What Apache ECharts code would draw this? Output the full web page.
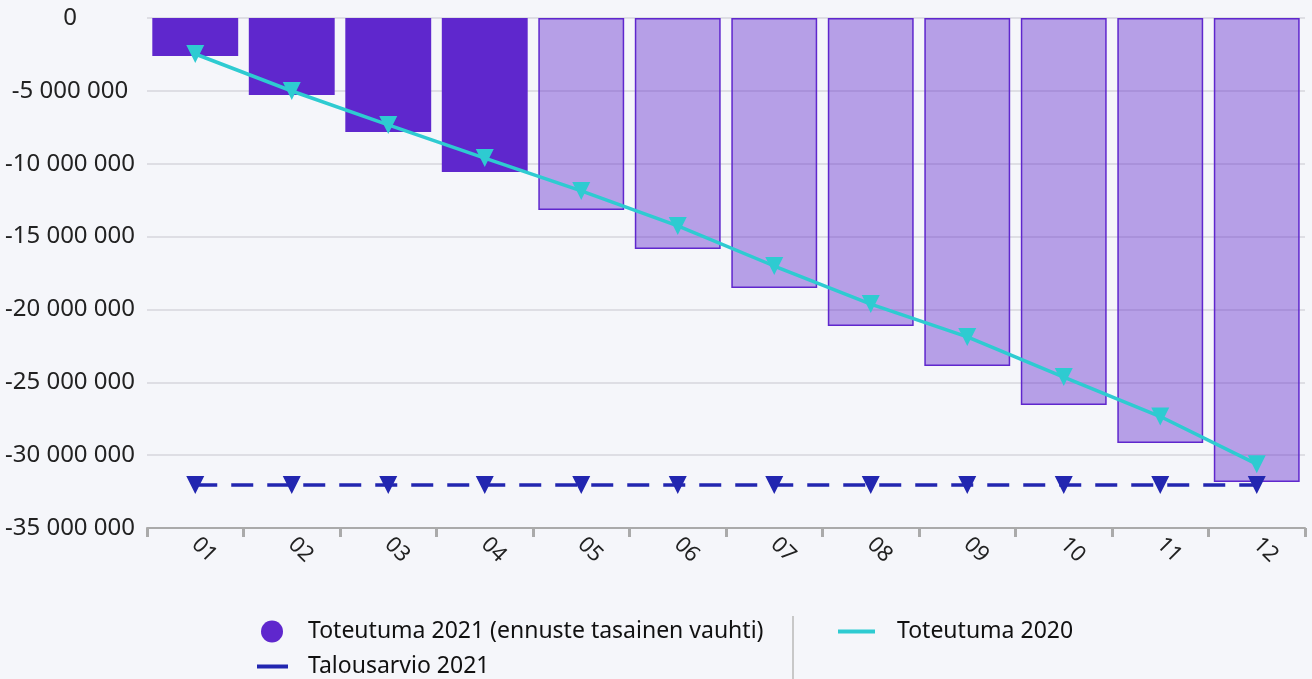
<!DOCTYPE html>
<html>
<head>
<meta charset="utf-8" />
<title>Toteutuma 2021</title>
<script src="https://cdnjs.cloudflare.com/ajax/libs/echarts/6.0.0/echarts.min.js"></script>
<style>
  html, body { margin: 0; padding: 0; background: #f5f6fa; }
  #chart { width: 1312px; height: 679px; }
</style>
</head>
<body>
<div id="chart"></div>
<script>
  // kuukaudet ja arvot (luettu kuvasta)
  var kuukaudet = ['01', '02', '03', '04', '05', '06', '07', '08', '09', '10', '11', '12'];
  var toteutuma2021 = [-2610000, -5280000, -7820000, -10570000, -13180000, -15850000,
                       -18530000, -21140000, -23880000, -26560000, -29170000, -31850000];
  var toteutuma2020 = [-2470000, -5010000, -7340000, -9610000, -11870000, -14270000,
                       -17020000, -19630000, -21890000, -24640000, -27350000, -30620000];
  var talousarvio2021 = [-32050000, -32050000, -32050000, -32050000, -32050000, -32050000,
                         -32050000, -32050000, -32050000, -32050000, -32050000, -32050000];
  var toteutuneetKk = 4; // loput ovat ennustetta

  var fontti = '"Noto Sans", "Open Sans", sans-serif';
  var violetti = '#5f27cd';

  function tuhannet(v) {
    return String(v).replace(/\B(?=(\d{3})+(?!\d))/g, ' ');
  }

  var palkit = toteutuma2021.map(function (v, i) {
    if (i < toteutuneetKk) return v;
    return { value: v, itemStyle: { color: 'rgba(95,39,205,0.42)', borderColor: violetti, borderWidth: 1.5 } };
  });

  var option = {
    backgroundColor: '#f5f6fa',
    textStyle: { fontFamily: fontti },
    grid: { left: 147, right: 7, top: 18, bottom: 151 },
    xAxis: {
      type: 'category',
      data: kuukaudet,
      z: 5,
      axisLine: { show: true, onZero: false, lineStyle: { color: '#aaaaaa', width: 2 } },
      axisTick: { show: true, interval: 0, length: 9, lineStyle: { color: '#aaaaaa', width: 3 } },
      axisLabel: { rotate: -45, fontSize: 22, color: '#222', margin: 13, fontFamily: fontti }
    },
    yAxis: {
      type: 'value',
      min: -35000000, max: 0, interval: 5000000,
      axisLine: { show: false },
      axisTick: { show: false },
      splitLine: { lineStyle: { color: '#d6d6dc', width: 1.5 } },
      axisLabel: { fontSize: 24, color: '#222', align: 'center', margin: 77, fontFamily: fontti, formatter: tuhannet }
    },
    legend: [
      {
        data: [{ name: 'Toteutuma 2021 (ennuste tasainen vauhti)', icon: 'circle' }],
        left: 261, top: 620, padding: 0,
        itemWidth: 22, itemHeight: 22,
        textStyle: { fontSize: 23, color: '#111', fontFamily: fontti, padding: [0, 0, 0, 20] }
      },
      {
        data: [{ name: 'Talousarvio 2021', icon: 'rect' }],
        left: 257, top: 655, padding: 0,
        itemWidth: 31, itemHeight: 4,
        textStyle: { fontSize: 23, color: '#111', fontFamily: fontti, padding: [0, 0, 0, 15] }
      },
      {
        data: [{ name: 'Toteutuma 2020', icon: 'rect' }],
        left: 838, top: 620, padding: 0,
        itemWidth: 37, itemHeight: 4,
        textStyle: { fontSize: 23, color: '#111', fontFamily: fontti, padding: [0, 0, 0, 17] }
      }
    ],
    graphic: [
      { type: 'line', shape: { x1: 793, y1: 616, x2: 793, y2: 679 }, style: { stroke: '#c8c8c8', lineWidth: 2 } }
    ],
    series: [
      {
        name: 'Toteutuma 2021 (ennuste tasainen vauhti)',
        type: 'bar',
        data: palkit,
        barCategoryGap: '11%',
        itemStyle: { color: violetti },
        z: 2
      },
      {
        name: 'Toteutuma 2020',
        type: 'line',
        data: toteutuma2020,
        symbol: 'triangle', symbolRotate: 180, symbolSize: 18,
        showAllSymbol: true,
        lineStyle: { color: '#2ecbd1', width: 3.5 },
        itemStyle: { color: '#2ecbd1' },
        z: 4
      },
      {
        name: 'Talousarvio 2021',
        type: 'line',
        data: talousarvio2021,
        symbol: 'triangle', symbolRotate: 180, symbolSize: 18,
        showAllSymbol: true,
        lineStyle: { color: '#2226b0', width: 3.5, type: [22, 14] },
        itemStyle: { color: '#2226b0' },
        z: 3
      }
    ]
  };

  var chart = echarts.init(document.getElementById('chart'));
  chart.setOption(option);
</script>
</body>
</html>
